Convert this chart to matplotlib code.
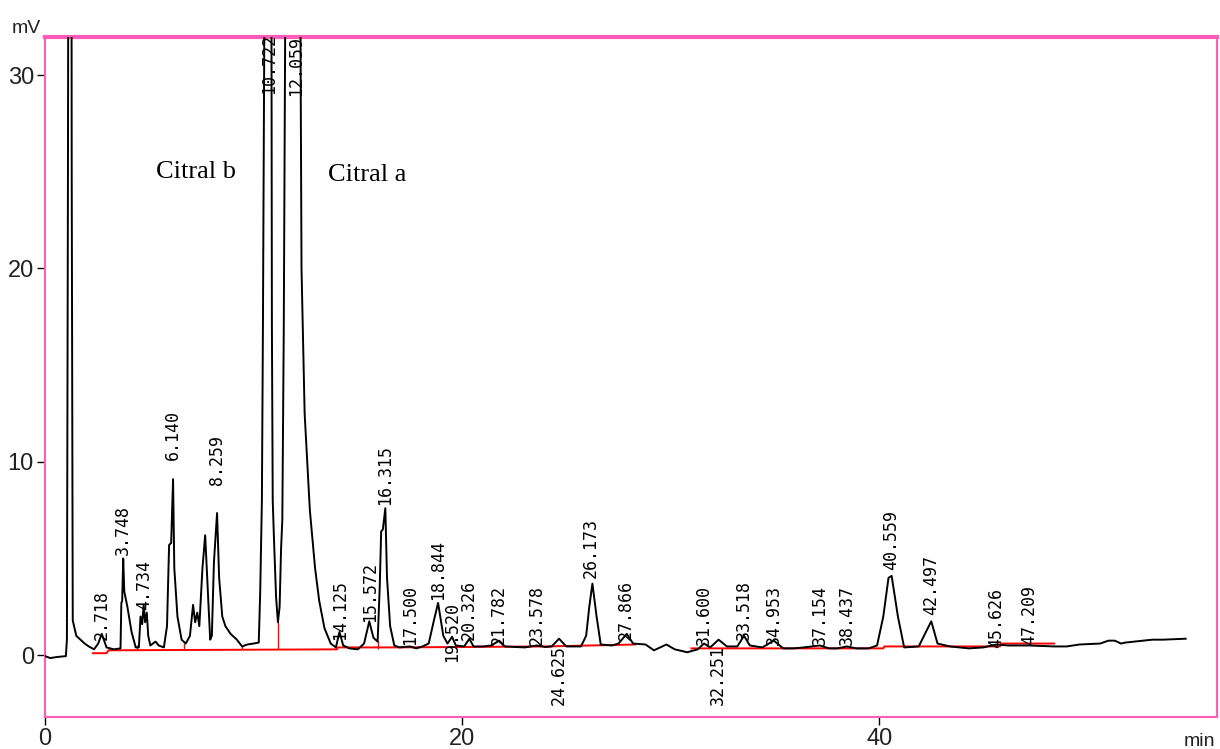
import numpy as np
import matplotlib
matplotlib.use("Agg")
import matplotlib.pyplot as plt

# chromatogram trace (min, mV)
trace_t = [0.00, 0.25, 0.55, 1.00, 1.05, 1.10, 1.15, 1.25, 1.28, 1.33, 1.50, 1.70, 1.90, 2.10, 2.35,
           2.55, 2.72, 2.95, 3.30, 3.62, 3.66, 3.70, 3.75, 3.80, 3.95, 4.15, 4.35, 4.50, 4.58, 4.66,
           4.73, 4.80, 4.88, 4.95, 5.05, 5.30, 5.45, 5.70, 5.85, 5.95, 6.05, 6.14, 6.20, 6.35, 6.55,
           6.75, 6.95, 7.10, 7.20, 7.30, 7.40, 7.55, 7.68, 7.80, 7.92, 8.00, 8.10, 8.25, 8.35, 8.50,
           8.65, 8.90, 9.20, 9.45, 9.70, 10.00, 10.25, 10.32, 10.40, 10.45, 10.55, 10.72, 10.85, 10.88,
           10.92, 10.98, 11.08, 11.17, 11.25, 11.32, 11.38, 11.45, 11.55, 12.06, 12.22, 12.30, 12.45,
           12.70, 12.95, 13.15, 13.40, 13.70, 13.95, 14.12, 14.30, 14.60, 15.00, 15.30, 15.55, 15.75,
           15.95, 16.05, 16.12, 16.20, 16.32, 16.40, 16.55, 16.75, 17.00, 17.50, 17.80, 18.10, 18.40,
           18.65, 18.85, 19.10, 19.30, 19.52, 19.70, 20.10, 20.35, 20.55, 21.00, 21.40, 21.78, 22.05,
           23.00, 23.58, 24.00, 24.30, 24.65, 25.00, 25.70, 25.95, 26.10, 26.25, 26.45, 26.65, 27.20,
           27.50, 27.90, 28.20, 28.80, 29.20, 29.80, 30.20, 30.80, 31.30, 31.60, 31.90, 32.30, 32.70,
           33.20, 33.52, 33.80, 34.40, 34.95, 35.40, 35.90, 36.40, 37.15, 37.60, 38.00, 38.45, 38.90,
           39.50, 39.90, 40.20, 40.45, 40.60, 40.90, 41.20, 41.90, 42.15, 42.50, 42.80, 43.40, 44.30,
           45.00, 45.62, 46.20, 47.20, 48.40, 49.00, 49.60, 50.60, 51.00, 51.30, 51.60, 51.80, 53.10,
           53.60, 54.70]
trace_mv = [-0.05, -0.15, -0.10, -0.05, 0.8, 25.0, 60, 60, 25.0, 1.8, 1.0, 0.8, 0.6, 0.45, 0.3,
            0.6, 1.1, 0.4, 0.3, 0.35, 2.7, 2.8, 5.0, 3.3, 2.5, 1.2, 0.4, 0.4, 2.0, 1.6,
            2.6, 1.7, 2.2, 1.0, 0.5, 0.7, 0.5, 0.4, 1.5, 5.7, 5.8, 9.1, 4.5, 2.0, 0.8,
            0.6, 1.0, 2.6, 1.7, 2.2, 1.5, 4.5, 6.2, 3.5, 0.8, 1.0, 4.8, 7.35, 4.0, 2.0,
            1.5, 1.1, 0.8, 0.45, 0.55, 0.6, 0.65, 3.3, 8.0, 17.0, 40, 60, 40, 17,
            8, 6, 3.0, 1.7, 2.5, 5.5, 7.0, 17.0, 40, 70, 40, 20, 12.5,
            7.5, 4.5, 2.8, 1.4, 0.6, 0.4, 1.2, 0.5, 0.35, 0.3, 0.6, 1.75, 0.9,
            0.7, 3.5, 6.4, 6.5, 7.6, 4.0, 1.5, 0.5, 0.4, 0.45, 0.35, 0.45, 0.6,
            1.8, 2.7, 1.0, 0.6, 0.95, 0.5, 0.45, 0.85, 0.45, 0.45, 0.5, 0.75, 0.45,
            0.4, 0.5, 0.42, 0.45, 0.85, 0.45, 0.45, 1.0, 2.5, 3.7, 2.0, 0.55, 0.5,
            0.6, 1.1, 0.6, 0.55, 0.25, 0.55, 0.3, 0.15, 0.3, 0.6, 0.4, 0.8, 0.45,
            0.45, 1.0, 0.5, 0.4, 0.75, 0.35, 0.35, 0.4, 0.5, 0.35, 0.35, 0.45, 0.35,
            0.35, 0.5, 2.0, 4.0, 4.1, 2.0, 0.4, 0.45, 1.0, 1.75, 0.6, 0.45, 0.35,
            0.4, 0.55, 0.5, 0.5, 0.45, 0.45, 0.55, 0.6, 0.75, 0.75, 0.6, 0.65, 0.8,
            0.8, 0.85]

# integration baseline (red)
base_t = [2.30, 2.95, 3.05, 14.0, 14.05, 17.0, 24.0, 28.3, np.nan, 31.0, 40.2, 40.25, 45.8, 45.85, 48.4]
base_mv = [0.1, 0.1, 0.25, 0.3, 0.4, 0.4, 0.45, 0.55, np.nan, 0.35, 0.35, 0.45, 0.45, 0.6, 0.6]
drop_t = [3.05, 4.40, 6.65, 9.45, 11.17, 15.95]
drop_top = [0.35, 0.5, 0.65, 0.5, 1.7, 0.75]

# peak labels: retention time and height where the text starts
peak_rt = [2.718, 3.748, 4.734, 6.140, 8.259, 10.722, 12.059, 14.125, 15.572, 16.315, 17.500,
           18.844, 19.520, 20.326, 21.782, 23.578, 24.625, 26.173, 27.866, 31.600, 32.251,
           33.518, 34.953, 37.154, 38.437, 40.559, 42.497, 45.626, 47.209]
label_y = [0.78, 5.17, 2.33, 10.1, 8.8, 29.0, 28.9, 0.78, 1.7, 7.76, 0.52,
           2.85, -0.36, 0.78, 0.52, 0.52, -2.6, 4.0, 0.78, 0.52, -2.6,
           0.78, 0.52, 0.52, 0.52, 4.4, 2.07, 0.36, 0.52]

pink = '#ff5cb8'
tickfont = ['Liberation Sans Narrow', 'Liberation Sans', 'DejaVu Sans']

fig = plt.figure(figsize=(12.2, 7.49), dpi=100)
ax = fig.add_axes([0.0369, 0.0427, 0.9606, 0.9079])
ax.set_xlim(0, 56.2)
ax.set_ylim(-3.2, 31.97)

ax.plot(trace_t, trace_mv, color='black', lw=1.4, zorder=3)
ax.plot(base_t, base_mv, color='red', lw=1.4, zorder=2)
ax.vlines(drop_t, 0.3, drop_top, color='red', lw=1.0, zorder=2)

for rt, y in zip(peak_rt, label_y):
    ax.text(rt, y, '%.3f' % rt, rotation=90, ha='center', va='bottom',
            family='DejaVu Sans Mono', fontsize=12, zorder=4)

ax.text(5.32, 24.7, 'Citral b', family='Liberation Serif', fontsize=19, va='baseline')
ax.text(13.57, 24.5, 'Citral a', family='Liberation Serif', fontsize=19, va='baseline')

for s in ax.spines.values():
    s.set_color(pink)
    s.set_linewidth(1.5)
ax.spines['top'].set_linewidth(3)

ax.set_xticks([0, 20, 40])
ax.set_yticks([0, 10, 20, 30])
ax.tick_params(direction='out', length=6, width=1, color='black', pad=2)
for lab in ax.get_xticklabels() + ax.get_yticklabels():
    lab.set_family(tickfont)
    lab.set_fontsize(17)
    lab.set_color('#222222')

fig.text(12/1220, 1 - 33/749, 'mV', family=tickfont, fontsize=14, va='baseline', color='#222222')
fig.text(1184/1220, 1 - 746/749, 'min', family=tickfont, fontsize=14, va='baseline', color='#222222')

fig.savefig('out.png', dpi=100)
